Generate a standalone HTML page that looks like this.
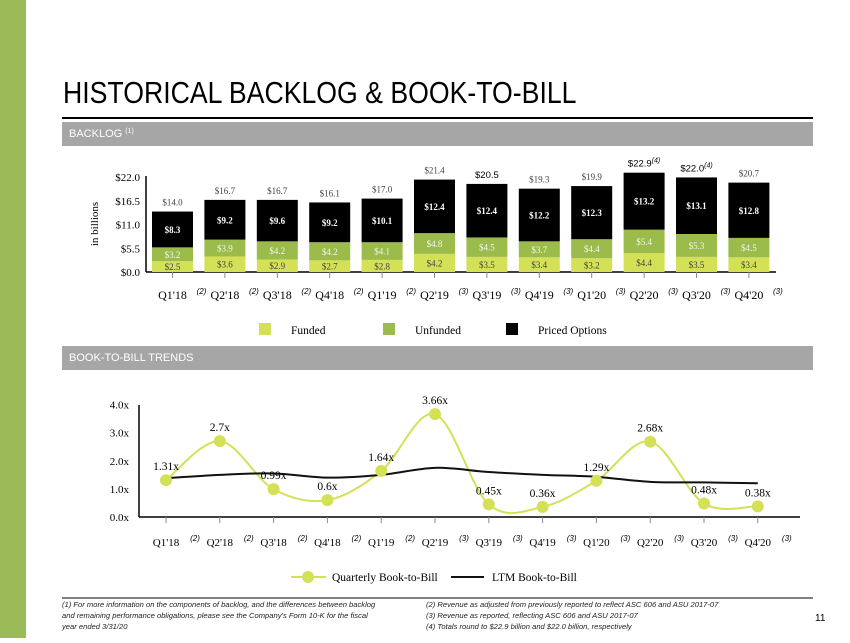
<!DOCTYPE html>
<html><head><meta charset="utf-8">
<style>
html,body{margin:0;padding:0;background:#fff;}
body{width:850px;height:638px;overflow:hidden;position:relative;font-family:"Liberation Sans",sans-serif;}
svg text{font-family:"Liberation Serif",serif;}
</style></head>
<body>
<svg id="s" width="850" height="638" xmlns="http://www.w3.org/2000/svg">
<rect x="0" y="0" width="26" height="638" fill="#9bbb59"/>
<text x="63" y="103" font-family="Liberation Sans,sans-serif" style="font-family:'Liberation Sans',sans-serif" font-size="31" transform="translate(63,0) scale(0.86,1) translate(-63,0)" fill="#000">HISTORICAL BACKLOG &amp; BOOK-TO-BILL</text>
<rect x="62" y="117" width="751" height="2" fill="#000"/>
<rect x="62" y="122" width="751" height="24" fill="#a6a6a6"/>
<text x="69" y="137" font-size="11" fill="#fff" style="font-family:'Liberation Sans',sans-serif">BACKLOG <tspan font-size="7" dy="-4">(1)</tspan></text>
<rect x="62" y="346" width="751" height="24" fill="#a6a6a6"/>
<text x="69" y="361" font-size="11" fill="#fff" style="font-family:'Liberation Sans',sans-serif">BOOK-TO-BILL TRENDS</text>
<g id="bar"></g>
<g id="line"></g>
<line x1="62" y1="598" x2="813" y2="598" stroke="#000" stroke-width="1"/>
<g style="font-family:'Liberation Sans',sans-serif" font-size="7.6" font-style="italic" fill="#222">
<text x="62" y="607" style="font-family:'Liberation Sans',sans-serif">(1) For more information on the components of backlog, and the differences between backlog</text>
<text x="62" y="618" style="font-family:'Liberation Sans',sans-serif">and remaining performance obligations, please see the Company's Form 10-K for the fiscal</text>
<text x="62" y="629" style="font-family:'Liberation Sans',sans-serif">year ended 3/31/20</text>
<text x="426" y="607" style="font-family:'Liberation Sans',sans-serif">(2) Revenue as adjusted from previously reported to reflect ASC 606 and ASU 2017-07</text>
<text x="426" y="618" style="font-family:'Liberation Sans',sans-serif">(3) Revenue as reported, reflecting ASC 606 and ASU 2017-07</text>
<text x="426" y="629" style="font-family:'Liberation Sans',sans-serif">(4) Totals round to $22.9 billion and $22.0 billion, respectively</text>
</g>
<text x="815" y="621" font-size="10" style="font-family:'Liberation Sans',sans-serif">11</text>
</svg>
<script>
const categories=["Q1'18","Q2'18","Q3'18","Q4'18","Q1'19","Q2'19","Q3'19","Q4'19","Q1'20","Q2'20","Q3'20","Q4'20"];
const notes=["(2)","(2)","(2)","(2)","(2)","(3)","(3)","(3)","(3)","(3)","(3)","(3)"];
const funded=[2.5,3.6,2.9,2.7,2.8,4.2,3.5,3.4,3.2,4.4,3.5,3.4];
const unfunded=[3.2,3.9,4.2,4.2,4.1,4.8,4.5,3.7,4.4,5.4,5.3,4.5];
const priced=[8.3,9.2,9.6,9.2,10.1,12.4,12.4,12.2,12.3,13.2,13.1,12.8];
const totals=["$14.0","$16.7","$16.7","$16.1","$17.0","$21.4","$20.5","$19.3","$19.9","$22.9","$22.0","$20.7"];
const totalNotes=["","","","","","","","","","(4)","(4)",""];
const barTicks=[0,5.5,11,16.5,22];
const barTickLabels=["$0.0","$5.5","$11.0","$16.5","$22.0"];
const quarterly=[1.31,2.7,0.99,0.6,1.64,3.66,0.45,0.36,1.29,2.68,0.48,0.38];
const quarterlyLabels=["1.31x","2.7x","0.99x","0.6x","1.64x","3.66x","0.45x","0.36x","1.29x","2.68x","0.48x","0.38x"];
const ltm=[1.38,1.5,1.55,1.4,1.5,1.75,1.6,1.5,1.43,1.25,1.23,1.2];
const lineTicks=[0,1,2,3,4];
const lineTickLabels=["0.0x","1.0x","2.0x","3.0x","4.0x"];

const NS="http://www.w3.org/2000/svg";
function mk(parent,tag,attrs,txt){const e=document.createElementNS(NS,tag);for(const k in attrs)e.setAttribute(k,attrs[k]);if(txt!==undefined)e.textContent=txt;parent.appendChild(e);return e;}

// bar chart
const bg=document.getElementById('bar');
const bx=i=>172.5+i*52.4;
const by=v=>272-v*(95/22);
const bw=41;
mk(bg,'line',{x1:146,y1:176,x2:146,y2:272,stroke:'#000','stroke-width':1.5});
mk(bg,'line',{x1:146,y1:272,x2:776,y2:272,stroke:'#000','stroke-width':1.5});
barTicks.forEach((t,i)=>{
  const e=mk(bg,'text',{x:140,y:by(t)+4,'text-anchor':'end','font-size':11},barTickLabels[i]);
  
  
});
const yt=mk(bg,'text',{x:0,y:0,'font-size':11,'text-anchor':'middle',transform:'translate(98,224) rotate(-90)'},'in billions');


categories.forEach((c,i)=>{
  const x=bx(i)-bw/2;
  const segs=[[funded[i],'#d4e157','#555'],[unfunded[i],'#9bbb4a','#eef'],[priced[i],'#000','#fff']];
  let base=0;
  const names=['funded','unfunded','priced-options'];
  segs.forEach((s,j)=>{
    const y1=by(base),y2=by(base+s[0]);
    const r=mk(bg,'rect',{x:x,y:y2,width:bw,height:y1-y2,fill:s[1]});
    
    
    const t=mk(bg,'text',{x:bx(i),y:(y1+y2)/2+3.5,'text-anchor':'middle','font-size':9,fill:j==2?'#fff':(j==1?'#f4f4f4':'#444'),'font-weight':j==2?'bold':'normal'},'$'+s[0].toFixed(1));
    
    
    base+=s[0];
  });
  const sans=(i==6||i==9||i==10);
  const tt=mk(bg,'text',{x:bx(i),y:by(base)-6,'text-anchor':'middle','font-size':sans?9.5:9,fill:sans?'#000':'#444'},totals[i]);
  if(sans)tt.setAttribute('style',"font-family:'Liberation Sans',sans-serif");
  if(totalNotes[i]){mk(tt,'tspan',{'font-size':7,'font-style':'italic',dy:-4},totalNotes[i]);}
  
  
  mk(bg,'line',{x1:bx(i),y1:272,x2:bx(i),y2:278,stroke:'#888'});
  const cl=mk(bg,'text',{x:bx(i),y:299,'text-anchor':'middle','font-size':12},c);
  
  
  const nl=mk(bg,'text',{x:bx(i)+29,y:294,'text-anchor':'middle','font-size':8,'font-style':'italic',style:"font-family:'Liberation Sans',sans-serif"},notes[i]);
  
  
});
[['Funded','#d4e157',259],['Unfunded','#9bbb4a',383],['Priced Options','#000',506]].forEach(l=>{
  const g=mk(bg,'g',{});
  
  
  mk(g,'rect',{x:l[2],y:323,width:12,height:12,fill:l[1]});
  mk(g,'text',{x:l[2]+32,y:334,'font-size':11.5},l[0]);
});

// line chart
const lg=document.getElementById('line');
const lx=i=>166+i*53.8;
const ly=v=>517-v*28.1;
mk(lg,'line',{x1:139,y1:405,x2:139,y2:517,stroke:'#000','stroke-width':1.5});
mk(lg,'line',{x1:139,y1:517,x2:800,y2:517,stroke:'#000','stroke-width':1.5});
lineTicks.forEach((t,i)=>{
  const e=mk(lg,'text',{x:129,y:ly(t)+4,'text-anchor':'end','font-size':11},lineTickLabels[i]);
  
  
});
function smooth(vals){
  const p=vals.map((v,i)=>[lx(i),ly(v)]);
  let d='M'+p[0][0]+','+p[0][1];
  for(let i=0;i<p.length-1;i++){
    const p0=p[i-1]||p[i],p1=p[i],p2=p[i+1],p3=p[i+2]||p[i+1];
    const c1=[p1[0]+(p2[0]-p0[0])/6,p1[1]+(p2[1]-p0[1])/6];
    const c2=[p2[0]-(p3[0]-p1[0])/6,p2[1]-(p3[1]-p1[1])/6];
    d+=' C'+c1[0]+','+c1[1]+' '+c2[0]+','+c2[1]+' '+p2[0]+','+p2[1];
  }
  return d;
}
const ql=mk(lg,'path',{d:smooth(quarterly),fill:'none',stroke:'#d4e157','stroke-width':2});


const ll=mk(lg,'path',{d:smooth(ltm),fill:'none',stroke:'#111','stroke-width':2});


categories.forEach((c,i)=>{
  const pt=mk(lg,'circle',{cx:lx(i),cy:ly(quarterly[i]),r:6,fill:'#d4e157'});
  
  
  const vl=mk(lg,'text',{x:lx(i)+(i==0?0:0),y:ly(quarterly[i])-10,'text-anchor':'middle','font-size':11.5},quarterlyLabels[i]);
  
  
  mk(lg,'line',{x1:lx(i),y1:517,x2:lx(i),y2:523,stroke:'#888'});
  const cl=mk(lg,'text',{x:lx(i),y:546,'text-anchor':'middle','font-size':11},c);
  
  
  const nl=mk(lg,'text',{x:lx(i)+29,y:541,'text-anchor':'middle','font-size':8,'font-style':'italic',style:"font-family:'Liberation Sans',sans-serif"},notes[i]);
  
  
});
const l1=mk(lg,'g',{});


mk(l1,'line',{x1:291,y1:577,x2:326,y2:577,stroke:'#d4e157','stroke-width':2});
mk(l1,'circle',{cx:308,cy:577,r:6,fill:'#d4e157'});
mk(l1,'text',{x:332,y:581,'font-size':11.5},'Quarterly Book-to-Bill');
const l2=mk(lg,'g',{});


mk(l2,'line',{x1:451,y1:577,x2:484,y2:577,stroke:'#111','stroke-width':2});
mk(l2,'text',{x:492,y:581,'font-size':11.5},'LTM Book-to-Bill');
</script>
</body></html>
